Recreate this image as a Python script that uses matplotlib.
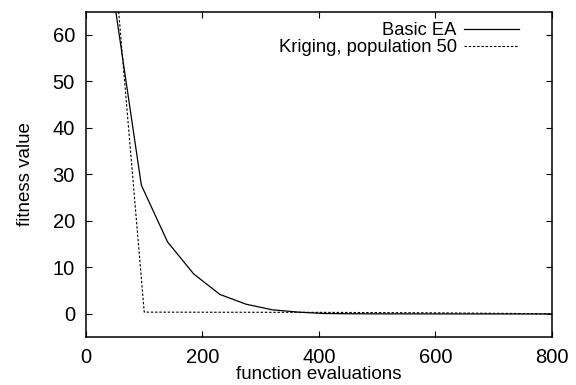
import matplotlib
matplotlib.use("Agg")
import matplotlib.pyplot as plt

plt.rcParams['font.family'] = ['Liberation Sans', 'DejaVu Sans']

# values
basic_x = [50, 95, 140, 185, 230, 275, 320, 365, 410, 455, 500, 600, 700, 800]
basic_y = [66.0, 27.7, 15.5, 8.6, 4.2, 2.1, 0.9, 0.4, 0.1, 0.05, 0.03, 0.02, 0.01, 0.0]
krig_x = [50, 100, 400, 600, 800]
krig_y = [74.0, 0.4, 0.35, 0.25, 0.05]

xticks = [0, 200, 400, 600, 800]
yticks = [0, 10, 20, 30, 40, 50, 60]

fig = plt.figure(figsize=(5.76, 3.85), dpi=100)
ax = fig.add_axes([0.1493, 0.124, 0.958 - 0.1493, 0.970 - 0.124])

ax.plot(basic_x, basic_y, color='black', lw=0.9, label='Basic EA')
ax.plot(krig_x, krig_y, color='black', lw=0.8, dashes=(2.2, 1.6),
        label='Kriging, population 50')

ax.set_xlim(0, 800)
ax.set_ylim(-5, 65)
ax.set_xticks(xticks)
ax.set_yticks(yticks)
ax.tick_params(direction='in', length=4.5, width=0.8, labelsize=14.5,
               top=True, right=True, pad=8)
for s in ax.spines.values():
    s.set_linewidth(1.1)

ax.set_xlabel('function evaluations', fontsize=13.5, labelpad=-1)
ax.set_ylabel('fitness value', fontsize=13.5, labelpad=13)

leg = ax.legend(loc='upper right', frameon=False, markerfirst=False,
                fontsize=13.2, handlelength=3.0, handletextpad=0.4,
                labelspacing=0.0, borderaxespad=0.0,
                bbox_to_anchor=(0.945, 0.99))

fig.savefig('out.png', dpi=100)
